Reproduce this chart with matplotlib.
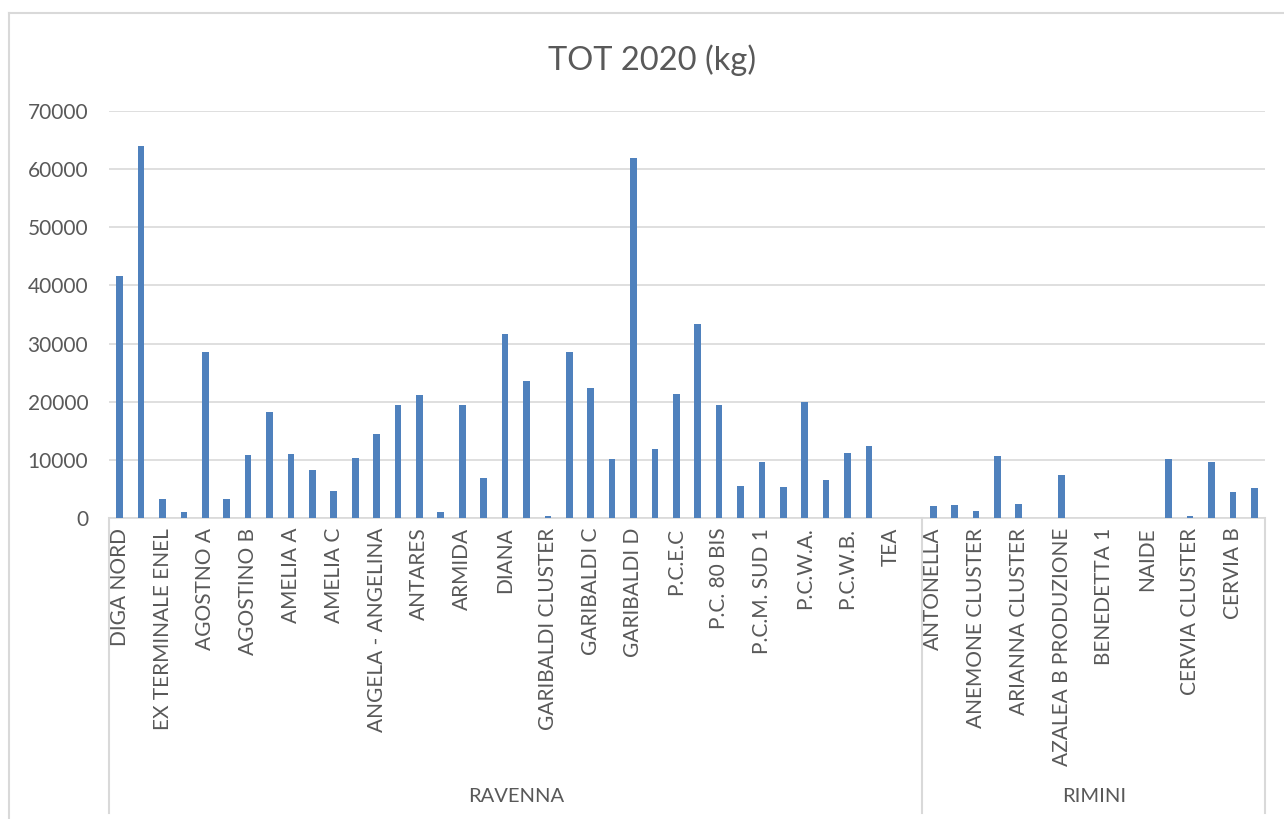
import numpy as np
import matplotlib
matplotlib.use("Agg")
import matplotlib.pyplot as plt
from matplotlib.lines import Line2D
from matplotlib.transforms import blended_transform_factory

plt.rcParams['font.family'] = ['Lato', 'DejaVu Sans']

title = "TOT 2020 (kg)"
groups = ["RAVENNA", "RIMINI"]

ravenna_labels = ["DIGA NORD", "", "EX TERMINALE ENEL", "", "AGOSTNO A", "",
                  "AGOSTINO B", "", "AMELIA A", "", "AMELIA C", "",
                  "ANGELA - ANGELINA", "", "ANTARES", "", "ARMIDA", "",
                  "DIANA", "", "GARIBALDI CLUSTER", "", "GARIBALDI C", "",
                  "GARIBALDI D", "", "P.C.E.C", "", "P.C. 80 BIS", "",
                  "P.C.M. SUD 1", "", "P.C.W.A.", "", "P.C.W.B.", "",
                  "TEA", ""]
ravenna_values = [41700, 63900, 3200, 1000, 28600, 3200, 10900, 18300, 11000, 8300,
                  4700, 10300, 14400, 19400, 21200, 1100, 19500, 6900, 31700, 23500,
                  400, 28500, 22400, 10200, 61900, 11900, 21300, 33400, 19400, 5500,
                  9600, 5300, 20000, 6500, 11200, 12400, 0, 0]

rimini_labels = ["ANTONELLA", "", "ANEMONE CLUSTER", "", "ARIANNA CLUSTER", "",
                 "AZALEA B PRODUZIONE", "", "BENEDETTA 1", "", "NAIDE", "",
                 "CERVIA CLUSTER", "", "CERVIA B", ""]
rimini_values = [2000, 2200, 1200, 10700, 2400, 0, 7400, 0, 0, 0,
                 0, 10200, 300, 9700, 4400, 5200]

y_ticks = [0, 10000, 20000, 30000, 40000, 50000, 60000, 70000]

labels = ravenna_labels + rimini_labels
values = ravenna_values + rimini_values
group_sizes = [len(ravenna_values), len(rimini_values)]

TXT = "#595959"
GRID = "#D9D9D9"
BAR = "#4F81BD"

W, H = 1284, 819
fig = plt.figure(figsize=(W / 100, H / 100), dpi=100)
fig.patch.set_facecolor("white")

x0, x1, ytop, ybot = 109, 1265, 111, 518
ax = fig.add_axes([x0 / W, 1 - ybot / H, (x1 - x0) / W, (ybot - ytop) / H])

x = np.arange(len(values))
ax.bar(x, values, width=0.31, color=BAR, zorder=3)
ax.set_xlim(-0.5, len(values) - 0.5)
ax.set_ylim(0, 70000)
ax.set_yticks(y_ticks)
ax.set_yticklabels([str(v) for v in y_ticks], fontsize=15, color=TXT)
ax.yaxis.grid(True, color=GRID, linewidth=1.2, zorder=0)
ax.set_axisbelow(True)
for s in ["top", "right", "left"]:
    ax.spines[s].set_visible(False)
ax.spines["bottom"].set_color(GRID)
ax.spines["bottom"].set_linewidth(1.2)
ax.tick_params(axis="y", length=0, pad=15)

shown = [i for i, l in enumerate(labels) if l]
ax.set_xticks(shown)
ax.set_xticklabels([labels[i] for i in shown], rotation=90, fontsize=15,
                   color=TXT, va="top", ha="center")
ax.tick_params(axis="x", length=0, pad=7)

# group separators and labels
trans = blended_transform_factory(ax.transData, ax.transAxes)
ybottom_axes = (ybot - 813) / (ybot - ytop)
edges = [-0.5]
for g in group_sizes:
    edges.append(edges[-1] + g)
for e in edges:
    ax.add_line(Line2D([e, e], [0, ybottom_axes], transform=trans, color=GRID,
                       linewidth=1.5, clip_on=False))
ylab_axes = (ybot - 797) / (ybot - ytop)
for gi, name in enumerate(groups):
    c = (edges[gi] + edges[gi + 1]) / 2
    ax.text(c, ylab_axes, name, transform=trans, ha="center", va="center",
            fontsize=14.5, color=TXT)

# title
fig.text(652 / W, 1 - 60 / H, title, ha="center", va="center", fontsize=23.5, color=TXT)

# chart border
fig.add_artist(Line2D([9 / W, 9 / W], [0, 1 - 13 / H], transform=fig.transFigure,
                      color=GRID, linewidth=1.5))
fig.add_artist(Line2D([9 / W, 1], [1 - 13 / H, 1 - 13 / H], transform=fig.transFigure,
                      color=GRID, linewidth=1.5))

fig.savefig("out.png", dpi=100)
